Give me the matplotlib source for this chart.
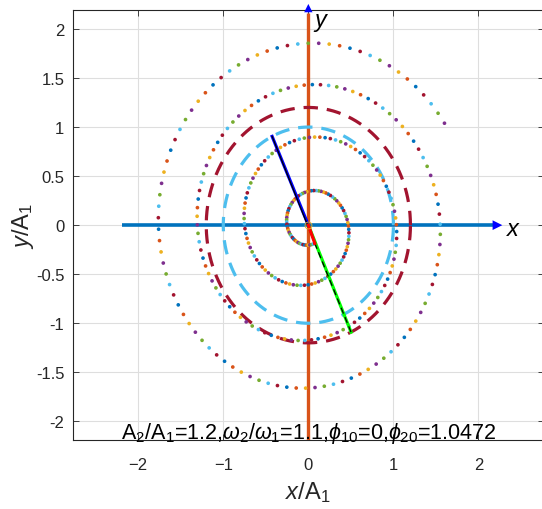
import numpy as np
import matplotlib
matplotlib.use('Agg')
import matplotlib.pyplot as plt

plt.rcParams['font.family'] = ['Liberation Sans', 'DejaVu Sans']
plt.rcParams['mathtext.fontset'] = 'custom'
plt.rcParams['mathtext.rm'] = 'Liberation Sans'
plt.rcParams['mathtext.it'] = 'Liberation Sans:italic'

# parameters of the two rotating vectors
A1 = 1.0
A2 = 1.2
w1 = 1.0
w2 = 1.1
phi10 = 0.0
phi20 = 1.0472
t_end = 20.86           # instant shown by the vectors
dt = 2 * np.pi / 100    # sampling step of the dotted trajectory

x_ticks = [-2, -1, 0, 1, 2]
y_ticks = [-2, -1.5, -1, -0.5, 0, 0.5, 1, 1.5, 2]
x_lim = (-2.77, 2.77)
y_lim = (-2.19, 2.19)

matlab_colors = ['#0072BD', '#D95319', '#EDB120', '#7E2F8E',
                 '#77AC30', '#4DBEEE', '#A2142F']

# trajectory of the resultant
t = np.arange(0, t_end + dt / 2, dt)
x1 = A1 * np.cos(w1 * t + phi10)
y1 = A1 * np.sin(w1 * t + phi10)
x2 = A2 * np.cos(w2 * t + phi20)
y2 = A2 * np.sin(w2 * t + phi20)
xr = x1 + x2
yr = y1 + y2

fig = plt.figure(figsize=(5.42, 5.10), dpi=100)
ax = fig.add_axes([0.1341, 0.1353, 0.8696, 0.8425])
ax.set_xlim(*x_lim)
ax.set_ylim(*y_lim)

grey = '#262626'
for s in ax.spines.values():
    s.set_color(grey)
    s.set_linewidth(0.8)
ax.set_xticks(x_ticks)
ax.set_yticks(y_ticks)
ax.set_yticklabels(['-2', '-1.5', '-1', '-0.5', '0', '0.5', '1', '1.5', '2'])
ax.tick_params(direction='in', length=4, width=0.6, colors=grey,
               labelsize=12, top=True, right=True, pad=6)
ax.tick_params(axis='x', pad=12)
ax.grid(True, color='#dedede', linewidth=0.8)
ax.set_axisbelow(True)

# coordinate axes
ax.plot([-2.19, 2.17], [0, 0], color='#0072BD', lw=2.6, solid_capstyle='butt')
ax.plot([0, 0], [y_lim[0], 2.16], color='#D95319', lw=2.4,
        solid_capstyle='butt', clip_on=False)
ax.annotate('', xy=(2.28, 0), xytext=(2.14, 0),
            arrowprops=dict(arrowstyle='-|>,head_length=0.7,head_width=0.35',
                            color='blue', lw=0, shrinkA=0, shrinkB=0))
ax.annotate('', xy=(0, 2.255), xytext=(0, 2.15), annotation_clip=False,
            arrowprops=dict(arrowstyle='-|>,head_length=0.6,head_width=0.3',
                            color='blue', lw=0, shrinkA=0, shrinkB=0))
ax.text(2.33, -0.03, 'x', fontsize=17, style='italic', va='center', ha='left')
ax.text(0.07, 2.1, 'y', fontsize=17, style='italic', va='center', ha='left',
        clip_on=False)

# reference circles
th = np.linspace(0, 2 * np.pi, 400)
ax.plot(A1 * np.cos(th), A1 * np.sin(th), color='#4DBEEE', lw=2.3,
        linestyle=(0, (4.5, 2.8)))
ax.plot(A2 * np.cos(th), A2 * np.sin(th), color='#A2142F', lw=2.3,
        linestyle=(0, (4.5, 2.8)))

# dotted trajectory, colours cycling
cols = [matlab_colors[(i + 3) % 7] for i in range(len(t))]
ax.scatter(xr, yr, s=7, c=cols, linewidths=0, zorder=3)

# vectors at the final instant
X1, Y1 = x1[-1], y1[-1]
X2, Y2 = x2[-1], y2[-1]
XR, YR = xr[-1], yr[-1]
ax.plot([0, X1], [0, Y1], color='blue', lw=2.3, zorder=4)
ax.plot([0, X2], [0, Y2], color='#00ff00', lw=2.3, zorder=4)
ax.plot([X1, XR], [Y1, YR], color='black', lw=0.9, zorder=5)
ax.plot([X2, XR], [Y2, YR], color='black', lw=0.9, linestyle=(0, (5, 3)), zorder=5)
ax.plot([0, XR], [0, YR], color='red', lw=2.3, zorder=6)
ax.plot([0], [0], 'o', mfc='none', mec='#EDB120', ms=5, mew=0.6, zorder=6)

ax.text(0, -2.17,
        r'A$_2$/A$_1$=1.2,$\omega_2$/$\omega_1$=1.1,$\phi_{10}$=0,$\phi_{20}$=1.0472',
        fontsize=15.5, ha='center', va='baseline', color='black', zorder=10)

ax.set_xlabel(r'$x/\mathrm{A}_1$', fontsize=17, color=grey, labelpad=5)
ax.set_ylabel(r'$y/\mathrm{A}_1$', fontsize=17, color=grey, labelpad=0)

fig.savefig('out.png', dpi=100)
